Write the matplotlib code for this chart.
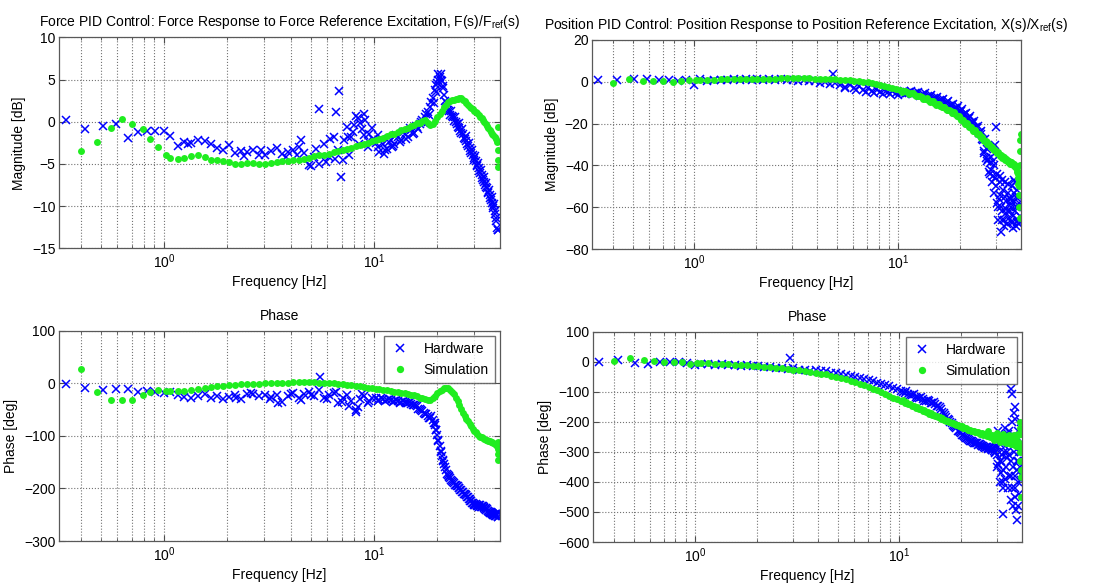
import matplotlib
matplotlib.use("Agg")
import matplotlib.pyplot as plt
from matplotlib.ticker import LogLocator, NullFormatter, MultipleLocator

plt.rcParams['font.family'] = ['Liberation Sans', 'DejaVu Sans']
plt.rcParams['mathtext.fontset'] = 'custom'
plt.rcParams['mathtext.rm'] = 'Liberation Sans'
plt.rcParams['mathtext.it'] = 'Liberation Sans:italic'
plt.rcParams['mathtext.bf'] = 'Liberation Sans:bold'

# ---------------- frequency grids [Hz] ----------------
freq_hw_low = [0.34, 0.42, 0.51, 0.59, 0.67, 0.75, 0.83, 0.91, 1.00]
freq_sim_low = [0.40, 0.48, 0.56, 0.63, 0.70, 0.79, 0.86, 0.94, 1.02]
freq_mid = [1.07, 1.16, 1.25, 1.35, 1.45, 1.56, 1.67, 1.79, 1.91, 2.04,
            2.18, 2.33, 2.49, 2.66, 2.84, 3.03, 3.23, 3.44, 3.66, 3.89,
            4.13, 4.38, 4.64, 4.91, 5.19, 5.48, 5.78, 6.09, 6.41, 6.74,
            7.08, 7.43, 7.79, 8.16, 8.54, 8.93, 9.33, 9.74]
freq_high = [10.2, 10.6, 11.0, 11.5, 12.0, 12.5, 13.0, 13.5, 14.0, 14.5,
             15.0, 15.5, 16.0, 16.5, 17.0, 17.5, 18.0, 18.5, 19.0, 19.5,
             20.0, 20.5, 21.0, 21.5, 22.0, 22.5, 23.0, 23.5, 24.0, 24.5,
             25.0, 25.5, 26.0, 26.5, 27.0, 27.5, 28.0, 28.5, 29.0, 29.5,
             30.0, 30.5, 31.0, 31.5, 32.0, 32.5, 33.0, 33.5, 34.0, 34.5,
             35.0, 35.5, 36.0, 36.5, 37.0, 37.5, 38.0, 38.5]
# interleaved high-frequency bins (second measurement pass)
freq_high_b = [10.4, 10.8, 11.25, 11.75, 12.25, 12.75, 13.25, 13.75, 14.25, 14.75,
               15.25, 15.75, 16.25, 16.75, 17.25, 17.75, 18.25, 18.75, 19.25, 19.75,
               20.25, 20.75, 21.25, 21.75, 22.25, 22.75, 23.25, 23.75, 24.25, 24.75,
               25.25, 25.75, 26.25, 26.75, 27.25, 27.75, 28.25, 28.75, 29.25, 29.75,
               30.25, 30.75, 31.25, 31.75, 32.25, 32.75, 33.25, 33.75, 34.25, 34.75,
               35.25, 35.75, 36.25, 36.75, 37.25, 37.75, 38.25, 38.75]

# ---------------- force loop: magnitude [dB] ----------------
force_mag_hw = [0.2, -0.9, -0.5, -0.3, -1.9, -1.2, -1.1, -1.1, -1.1,
                -1.7, -2.9, -2.4, -2.5, -2.2, -2.3, -2.7, -3.1, -3.3, -2.8,
                -3.7, -3.5, -3.6, -3.3, -3.9, -4.0, -3.5, -3.1, -3.8, -3.6,
                -3.4, -3.0, -3.7, -5.1, -4.2, -5.0, -2.6, -4.2, -1.8, -3.4,
                -4.5, -0.6, -1.8, 0.7, -0.1, 0.9, -3.0, -0.8,
                -2.5, -3.6, -2.6, -3.2, -2.2, -2.6, -1.8, -2.2, -1.4, -1.8,
                -1.0, -1.3, -0.6, -0.3, 0.2, 0.6, 1.2, 1.8, 2.8, 3.8,
                4.6, 5.3, 4.8, 3.2, 1.8, 1.4, 0.8, 0.7, 0.1, 0.0,
                -0.6, -0.7, -1.3, -1.5, -2.1, -2.3, -2.9, -3.1, -3.7, -3.9,
                -4.5, -4.7, -5.3, -5.5, -6.1, -6.3, -6.9, -7.1, -7.7, -7.9,
                -8.5, -8.7, -9.3, -9.6, -10.2, -10.6, -11.4, -12.6]
force_mag_hw_b = [-3.0, -2.0, -3.4, -2.4, -2.9, -1.6, -2.4, -1.2, -2.0, -0.8,
                  -1.5, -0.5, -0.9, 0.0, -0.2, 0.9, 0.8, 2.3, 2.2, 4.4,
                  5.0, 5.6, 4.2, 2.4, 2.2, 1.3, 1.3, 0.5, 0.6, -0.3,
                  -0.2, -1.1, -0.9, -1.9, -1.7, -2.7, -2.5, -3.5, -3.3, -4.3,
                  -4.1, -5.1, -4.9, -5.9, -5.7, -6.7, -6.5, -7.5, -7.3, -8.3,
                  -8.1, -9.1, -8.9, -10.0, -9.8, -11.0, -11.8, -12.9]
force_mag_hw_extra_f = [5.46, 6.6, 6.78, 6.96, 4.5, 5.0, 7.5, 8.0, 8.35, 8.8,
                        9.1, 9.5, 9.9, 10.4, 11.2, 12.2, 20.2, 20.8, 19.8, 21.2,
                        38.8, 5.3, 5.9, 6.2, 6.5, 7.2, 7.6, 7.9, 8.5, 9.0,
                        9.4, 3.8, 4.3, 2.4, 2.9, 1.3]
force_mag_hw_extra_v = [1.5, 1.1, 3.6, -6.5, -2.2, -5.2, -1.8, -0.4, 0.4, -0.9,
                        0.2, -1.5, -2.0, -1.6, -3.8, -3.0, 5.6, 5.0, 3.5, 4.0,
                        -12.9, -3.2, -4.8, -2.0, -4.4, -2.2, -3.9, -1.2, -2.6, -1.6,
                        -2.3, -4.2, -3.9, -4.1, -3.4, -2.7]

force_mag_sim = [-3.5, -2.4, -0.7, 0.3, -0.3, -0.9, -2.1, -3.0, -4.0,
                 -4.3, -4.4, -4.3, -4.1, -4.0, -4.2, -4.5, -4.6, -4.7, -4.8,
                 -5.0, -5.0, -4.9, -4.9, -5.0, -5.0, -4.9, -4.8, -4.7, -4.7,
                 -4.6, -4.5, -4.4, -4.3, -4.1, -4.0, -3.9, -3.8, -3.6, -3.5,
                 -3.4, -3.2, -3.1, -2.9, -2.8, -2.6, -2.5, -2.3,
                 -2.2, -2.0, -1.9, -1.7, -1.5, -1.4, -1.2, -1.0, -0.9, -0.7,
                 -0.5, -0.4, -0.2, -0.1, 0.1, 0.2, -0.2, -0.4, -0.3, 0.1,
                 0.5, 0.9, 1.3, 1.7, 2.0, 2.3, 2.5, 2.6, 2.6, 2.7,
                 2.7, 2.8, 2.8, 2.6, 2.4, 2.2, 2.0, 1.8, 1.6, 1.45,
                 1.3, 1.15, 1.0, 0.8, 0.6, 0.4, 0.2, 0.0, -0.3, -0.5,
                 -0.8, -1.0, -1.2, -1.4, -1.6, -1.8, -2.0, -2.4]
force_mag_sim_extra_f = [38.8, 38.8, 38.8, 38.8]
force_mag_sim_extra_v = [-0.6, -3.3, -4.6, -5.4]

# ---------------- force loop: phase [deg] ----------------
force_ph_hw = [-2, -9, -13, -11, -10, -17, -15, -16, -19,
               -17, -22, -26, -28, -24, -21, -27, -24, -29, -26,
               -22, -30, -21, -20, -25, -22, -26, -23, -36, -24,
               -19, -28, -20, -17, -24, -13, -28, -22, -18, -38,
               -27, -22, -34, -50, -30, -25, -38, -27,
               -28, -31, -29, -32, -31, -34, -33, -36, -35, -38,
               -39, -42, -44, -49, -53, -58, -62, -66, -70, -80,
               -98, -120, -138, -153, -165, -174, -180, -185, -189, -193,
               -196, -200, -203, -206, -210, -213, -217, -221, -224, -227,
               -229, -230, -231, -232, -232, -233, -234, -236, -238, -240,
               -242, -244, -246, -247, -248, -249, -250, -251]
force_ph_hw_b = [-33, -27, -34, -30, -35, -31, -37, -33, -38, -36,
                 -42, -41, -48, -50, -57, -59, -66, -63, -76, -88,
                 -110, -130, -148, -160, -172, -178, -184, -188, -193, -196,
                 -199, -203, -206, -210, -213, -217, -221, -224, -228, -231,
                 -232, -233, -234, -235, -235, -236, -238, -239, -241, -243,
                 -245, -247, -249, -250, -251, -252, -253, -254]
force_ph_hw_extra_f = [5.5, 8.2, 8.4, 3.5, 7.0, 19.8, 20.2, 20.8, 21.3, 19.6,
                       22.8, 38.8, 38.8, 2.2, 2.6, 3.2, 4.0, 4.5, 5.0, 6.0,
                       6.6, 7.6, 8.8, 9.5]
force_ph_hw_extra_v = [12, -55, -45, -38, -35, -88, -108, -128, -145, -76,
                       -176, -245, -255, -28, -18, -30, -20, -32, -22, -30,
                       -16, -44, -20, -33]

force_ph_sim = [28, -16, -31, -31, -31, -22, -16, -13, -14,
                -15, -15, -14, -12, -10, -8, -7, -6, -5, -4,
                -3, -2, -2, -1, -1, 0, 0, 1, 1, 1,
                2, 2, 2, 2, 2, 1, 1, 0, 0, -1,
                -2, -3, -4, -5, -6, -7, -8, -9,
                -10, -11, -12, -13, -14, -16, -17, -18, -19, -21,
                -22, -23, -25, -27, -28, -30, -31, -31, -28, -24,
                -19, -15, -12, -9, -8, -9, -12, -16, -21, -27,
                -33, -41, -49, -56, -62, -67, -72, -77, -82, -86,
                -90, -93, -97, -100, -102, -103, -104, -105, -107, -108,
                -109, -110, -111, -112, -114, -115, -117, -119]
force_ph_sim_extra_f = [38.8, 38.8, 38.8, 38.8]
force_ph_sim_extra_v = [-112, -125, -135, -145]

# ---------------- position loop: magnitude [dB] ----------------
pos_mag_hw = [0.9, 0.9, 1.4, 1.4, 0.8, 1.0, 0.2, 0.9, -1.5,
              1.2, 0.6, 0.9, 1.0, 0.7, 1.1, 0.8, 1.3, 0.9, 1.4,
              1.0, 1.2, 0.8, 1.1, 0.7, 1.0, 0.6, 0.9, 0.4, 0.2,
              -0.5, 0.1, -1.0, -0.6, -1.5, -2.3, -1.4, -3.0, -2.2, -3.8,
              -2.8, -4.3, -3.5, -4.8, -4.0, -5.0, -4.4, -5.2,
              -5.0, -4.6, -5.2, -4.6, -5.6, -5.0, -6.2, -5.6, -7.0, -6.4,
              -7.8, -7.2, -8.8, -8.2, -10.0, -9.3, -11.2, -10.5, -12.6, -11.8,
              -14.0, -13.2, -15.6, -14.8, -17.4, -16.6, -19.4, -18.6, -21.6, -21.0,
              -24.0, -23.5, -28.0, -27.5, -32.0, -31.0, -39.0, -42.0, -45.0, -40.0,
              -50.0, -44.0, -56.0, -48.0, -62.0, -52.0, -66.0, -57.0, -68.0, -53.0,
              -62.0, -67.0, -50.0, -64.0, -57.0, -69.0, -52.0, -66.0]
pos_mag_hw_b = [-5.6, -5.9, -5.0, -6.0, -5.4, -6.6, -6.0, -7.4, -6.8, -8.3,
                -7.7, -9.3, -8.6, -10.4, -9.8, -11.6, -11.0, -12.9, -12.4, -14.4,
                -13.9, -16.0, -15.6, -17.8, -17.5, -19.8, -19.6, -22.0, -22.0, -24.5,
                -25.0, -27.5, -33.0, -36.5, -38.0, -43.0, -36.0, -48.0, -53.0, -46.0,
                -58.0, -66.0, -54.0, -60.0, -47.0, -69.0, -55.0, -61.0, -49.0, -65.0,
                -56.0, -60.0, -67.0, -53.0, -62.0, -55.0, -67.0, -58.0]
pos_mag_hw_extra_f = [4.8, 30.1, 29.8, 31.6, 29.2, 30.6, 31.3, 32.3, 33.2, 34.2,
                      35.2, 36.2, 37.2, 38.2, 38.8, 39.2, 39.5, 28.2, 27.3, 26.3,
                      33.7, 35.7, 36.7, 37.7, 39.0, 5.5, 6.2, 6.9, 7.6, 8.4,
                      9.1, 9.9]
pos_mag_hw_extra_v = [3.8, -21.7, -30.3, -72, -38, -60, -45, -66, -48, -62,
                      -58, -70, -48, -60, -55, -64, -48, -44, -37, -34,
                      -63, -56, -47, -60, -68, -3.2, -4.1, -4.9, -5.4, -5.8,
                      -6.0, -6.3]

pos_mag_sim = [-0.4, 1.2, 0.4, 0.6, 0.4, 0.1, 0.5, 0.9, 0.8,
               0.9, 1.0, 1.0, 1.1, 1.2, 1.2, 1.3, 1.3, 1.4, 1.4,
               1.5, 1.5, 1.5, 1.6, 1.6, 1.6, 1.6, 1.6, 1.6, 1.5,
               1.5, 1.4, 1.3, 1.2, 1.0, 0.9, 0.7, 0.5, 0.3, 0.0,
               -0.3, -0.6, -1.0, -1.4, -1.9, -2.4, -2.9, -3.4,
               -4.0, -4.5, -5.0, -5.6, -6.2, -6.9, -7.5, -8.2, -8.8, -9.4,
               -10.0, -10.8, -11.5, -12.1, -12.8, -13.5, -14.2, -14.9, -15.6, -16.5,
               -17.5, -18.3, -19.2, -20.0, -20.8, -21.6, -22.5, -23.4, -24.2, -25.0,
               -25.8, -26.6, -27.5, -28.2, -29.0, -29.8, -30.5, -31.3, -32.0, -32.7,
               -33.3, -33.9, -34.5, -35.1, -35.6, -36.1, -36.6, -37.1, -37.5, -37.9,
               -38.3, -38.6, -39.0, -39.5, -40.0, -41.0, -42.0, -44.0]
pos_mag_sim_b = [-4.8, -4.2, -5.8, -5.4, -7.0, -6.6, -8.3, -7.9, -9.6, -9.2,
                 -10.9, -10.6, -12.3, -11.9, -13.6, -13.3, -15.0, -14.7, -16.5, -16.4,
                 -18.3, -18.2, -20.0, -19.9, -21.7, -21.6, -23.4, -23.3, -25.1, -24.9,
                 -26.7, -26.5, -28.3, -28.1, -29.9, -29.6, -31.4, -31.1, -32.8, -32.5,
                 -34.1, -33.7, -35.3, -34.9, -36.4, -35.9, -37.4, -36.9, -38.3, -37.7,
                 -39.1, -38.5, -39.9, -39.3, -41.0, -40.5, -43.0, -45.5]
pos_mag_sim_extra_f = [38.8, 38.9, 39.0, 39.1, 39.2, 39.3, 39.4, 39.5, 39.6, 38.7, 38.6]
pos_mag_sim_extra_v = [-47, -50, -54, -60, -65, -40, -33, -28, -25, -46, -49]

# ---------------- position loop: phase [deg] ----------------
pos_ph_hw = [0, 6, -5, -8, 0, -2, -2, -3, -12,
             -8, -6, -10, -7, -12, -9, -13, -11, -15, -14,
             -18, -17, -21, -20, -23, -22, -27, -26, -29, -28,
             -32, -31, -36, -38, -40, -44, -47, -50, -55, -57,
             -62, -65, -70, -73, -78, -82, -87, -91,
             -96, -103, -106, -112, -116, -121, -124, -129, -132, -136,
             -140, -147, -158, -172, -185, -195, -205, -214, -222, -230,
             -238, -244, -250, -255, -259, -263, -266, -270, -272, -275,
             -277, -280, -282, -284, -286, -288, -290, -292, -296, -300,
             -310, -285, -330, -260, -360, -300, -390, -250, -420, -310,
             -380, -200, -350, -270, -450, -330, -400, -300]
pos_ph_hw_b = [-102, -98, -111, -107, -121, -117, -129, -126, -137, -134,
               -147, -152, -168, -178, -192, -200, -212, -218, -229, -233,
               -244, -246, -255, -256, -263, -264, -270, -270, -276, -275,
               -281, -279, -286, -283, -290, -286, -294, -288, -305, -285,
               -340, -270, -370, -310, -400, -280, -350, -320, -380, -260,
               -330, -420, -300, -380, -250, -360, -330, -280]
pos_ph_hw_extra_f = [2.9, 32.1, 35.5, 35.3, 36.6, 37.3, 37.5, 39.4, 39.4, 33.0,
                     34.0, 36.0, 37.0, 38.0, 39.0, 39.2, 30.0, 31.0, 32.0, 30.5,
                     36.8, 38.2, 39.6, 34.5, 35.0, 31.5, 33.5, 36.3, 37.8, 38.6]
pos_ph_hw_extra_v = [13, -508, -106, -89, -150, -494, -528, -200, -394, -220,
                     -240, -480, -420, -480, -350, -300, -350, -400, -420, -230,
                     -190, -230, -380, -230, -460, -330, -300, -170, -250, -440]

pos_ph_sim = [3, 13, 6, 2, 1, 1, 0, -7, -3,
              -4, -5, -6, -7, -8, -9, -10, -12, -13, -15,
              -16, -18, -20, -22, -24, -26, -28, -30, -33, -36,
              -39, -42, -46, -50, -54, -58, -63, -68, -73, -78,
              -84, -89, -95, -101, -107, -113, -119, -125,
              -131, -136, -141, -147, -153, -158, -163, -168, -173, -177,
              -181, -185, -189, -193, -197, -200, -204, -207, -210, -213,
              -216, -219, -222, -224, -227, -229, -231, -233, -235, -237,
              -239, -240, -242, -243, -245, -246, -247, -248, -249, -250,
              -251, -252, -253, -254, -255, -256, -257, -258, -259, -260,
              -261, -262, -263, -262, -264, -266, -268, -272]
pos_ph_sim_b = [-128, -135, -140, -146, -151, -157, -161, -167, -171, -176,
                -180, -185, -188, -193, -196, -200, -203, -207, -209, -214,
                -215, -220, -221, -226, -226, -231, -230, -235, -234, -239,
                -236, -243, -239, -247, -242, -250, -243, -253, -245, -256,
                -246, -260, -247, -263, -248, -266, -249, -269, -250, -271,
                -250, -274, -251, -276, -252, -279, -245, -285]
pos_ph_sim_extra_f = [30.2, 31.2, 32.2, 33.2, 34.2, 35.2, 36.2, 37.2, 38.2, 38.8,
                      38.9, 39.0, 39.1, 39.2, 39.3, 39.4, 39.5, 29.2, 27.2]
pos_ph_sim_extra_v = [-238, -268, -240, -272, -243, -275, -245, -280, -240, -200,
                      -220, -300, -330, -360, -383, -450, -240, -262, -232]

# ---------------- labels ----------------
title_force = r"Force PID Control: Force Response to Force Reference Excitation, F(s)/F$_{\mathrm{ref}}$(s)"
title_pos = r"Position PID Control: Position Response to Position Reference Excitation, X(s)/X$_{\mathrm{ref}}$(s)"
title_phase = "Phase"
xlabel = "Frequency [Hz]"
ylabel_mag = "Magnitude [dB]"
ylabel_ph = "Phase [deg]"
legend_labels = ["Hardware", "Simulation"]

freq_hw = freq_hw_low + freq_mid + freq_high
freq_sim = freq_sim_low + freq_mid + freq_high
for series in (force_mag_hw, force_ph_hw, pos_mag_hw, pos_ph_hw):
    assert len(series) == len(freq_hw), len(series)
for series in (force_mag_sim, force_ph_sim, pos_mag_sim, pos_ph_sim):
    assert len(series) == len(freq_sim), len(series)
for series in (force_mag_hw_b, force_ph_hw_b, pos_mag_hw_b, pos_ph_hw_b,
               pos_mag_sim_b, pos_ph_sim_b):
    assert len(series) == len(freq_high_b), len(series)

HW_COLOR = (0.0, 0.0, 1.0)
SIM_COLOR = (0.12, 0.93, 0.12)
FS = 10

fig = plt.figure(figsize=(10.93, 5.84), dpi=100)
ax_fm = fig.add_axes([0.054, 0.575, 0.4035, 0.361])
ax_pm = fig.add_axes([0.5416, 0.5736, 0.3925, 0.358])
ax_fp = fig.add_axes([0.054, 0.0736, 0.4035, 0.36])
ax_pp = fig.add_axes([0.5425, 0.0719, 0.3925, 0.36])

KW_HW = dict(linestyle='none', marker='x', color=HW_COLOR, markersize=5.4,
             markeredgewidth=1.1)
KW_SIM = dict(linestyle='none', marker='o', color=SIM_COLOR, markersize=5.0,
              markeredgewidth=0)


def draw(ax, hw, hw_b, hw_ef, hw_ev, sim, sim_b, sim_ef, sim_ev):
    ax.plot(freq_hw, hw, **KW_HW, label=legend_labels[0])
    if hw_b is not None:
        ax.plot(freq_high_b, hw_b, **KW_HW)
    ax.plot(hw_ef, hw_ev, **KW_HW)
    ax.plot(freq_sim, sim, **KW_SIM, label=legend_labels[1])
    if sim_b is not None:
        ax.plot(freq_high_b, sim_b, **KW_SIM)
    ax.plot(sim_ef, sim_ev, **KW_SIM)


def style(ax, ylim, ystep, ylabel, title, title_pad):
    ax.set_xscale('log')
    ax.set_xlim(0.316, 39.8)
    ax.set_ylim(*ylim)
    ax.yaxis.set_major_locator(MultipleLocator(ystep))
    ax.xaxis.set_major_locator(LogLocator(base=10, numticks=10))
    ax.xaxis.set_minor_locator(LogLocator(base=10, subs=range(2, 10), numticks=20))
    ax.xaxis.set_minor_formatter(NullFormatter())
    ax.grid(True, which='major', axis='both', linestyle=':', color='0.45', linewidth=0.8)
    ax.grid(True, which='minor', axis='x', linestyle=':', color='0.45', linewidth=0.8)
    ax.tick_params(which='both', direction='in', top=True, right=True,
                   labelsize=FS, color='0.3')
    ax.tick_params(axis='y', pad=2.5)
    ax.tick_params(axis='x', pad=3)
    ax.tick_params(which='major', length=4)
    ax.tick_params(which='minor', length=2)
    for sp in ax.spines.values():
        sp.set_color('0.35')
        sp.set_linewidth(0.9)
    ax.set_xlabel(xlabel, fontsize=FS, labelpad=3)
    ax.set_ylabel(ylabel, fontsize=FS, labelpad=4)
    ax.set_title(title, fontsize=FS, pad=title_pad)
    ax.set_axisbelow(True)


draw(ax_fm, force_mag_hw, force_mag_hw_b, force_mag_hw_extra_f, force_mag_hw_extra_v,
     force_mag_sim, None, force_mag_sim_extra_f, force_mag_sim_extra_v)
style(ax_fm, (-15, 10), 5, ylabel_mag, title_force, 8)

draw(ax_pm, pos_mag_hw, pos_mag_hw_b, pos_mag_hw_extra_f, pos_mag_hw_extra_v,
     pos_mag_sim, pos_mag_sim_b, pos_mag_sim_extra_f, pos_mag_sim_extra_v)
style(ax_pm, (-80, 20), 20, ylabel_mag, title_pos, 8)

draw(ax_fp, force_ph_hw, force_ph_hw_b, force_ph_hw_extra_f, force_ph_hw_extra_v,
     force_ph_sim, None, force_ph_sim_extra_f, force_ph_sim_extra_v)
style(ax_fp, (-300, 100), 100, ylabel_ph, title_phase, 8)

draw(ax_pp, pos_ph_hw, pos_ph_hw_b, pos_ph_hw_extra_f, pos_ph_hw_extra_v,
     pos_ph_sim, pos_ph_sim_b, pos_ph_sim_extra_f, pos_ph_sim_extra_v)
style(ax_pp, (-600, 100), 100, ylabel_ph, title_phase, 8)

for ax in (ax_fp, ax_pp):
    leg = ax.legend(loc='upper right', fontsize=FS, frameon=True, fancybox=False,
                    edgecolor='0.3', handlelength=1.4, handletextpad=1.0,
                    borderpad=0.45, labelspacing=0.5, borderaxespad=0.35,
                    markerscale=1.05)
    leg.get_frame().set_linewidth(1.0)

fig.savefig("out.png", dpi=100)
